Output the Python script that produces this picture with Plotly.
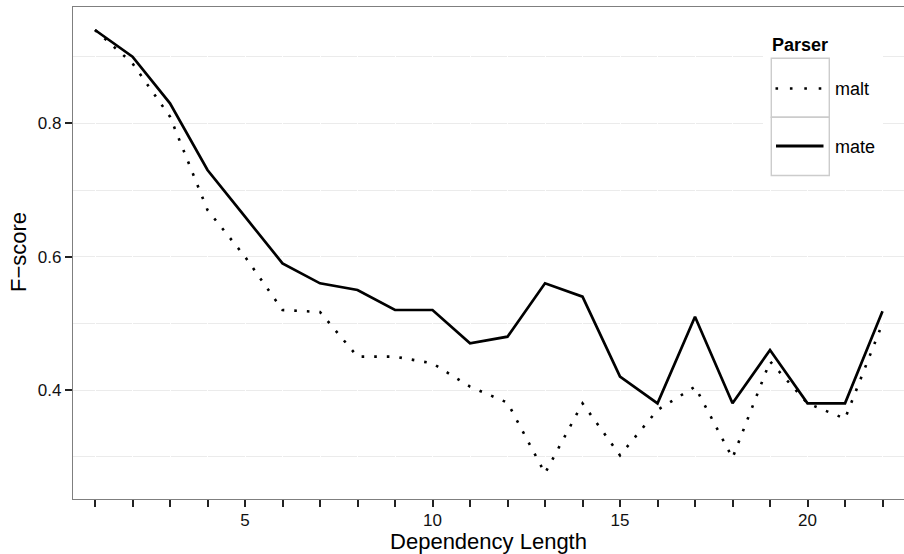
import plotly.graph_objects as go

# ---- data ----
dependency_length = list(range(1, 23))
malt_fscore = [0.94, 0.89, 0.81, 0.67, 0.60, 0.52, 0.517, 0.45, 0.45, 0.44, 0.405,
               0.381, 0.275, 0.38, 0.302, 0.37, 0.405, 0.298, 0.443, 0.38, 0.357, 0.50]
mate_fscore = [0.94, 0.90, 0.83, 0.73, 0.66, 0.59, 0.56, 0.55, 0.52, 0.52, 0.47,
               0.48, 0.56, 0.54, 0.42, 0.38, 0.51, 0.38, 0.46, 0.38, 0.38, 0.518]
series_names = ["malt", "mate"]
legend_title = "Parser"
x_title = "Dependency Length"
y_title = "F\u2212score"
x_tick_vals = list(range(1, 23))
x_tick_text = ["", "", "", "", "5", "", "", "", "", "10", "", "", "", "", "15",
               "", "", "", "", "20", "", ""]
y_tick_vals = [0.4, 0.6, 0.8]
y_tick_text = ["0.4", "0.6", "0.8"]
y_minor_vals = [0.3, 0.4, 0.5, 0.6, 0.7, 0.8, 0.9]

W, H = 904, 554
ML, MR, MT, MB = 73, 0, 7, 55
PW, PH = W - ML - MR, H - MT - MB

def px(x):
    return (x - ML) / PW

def py(y):
    return (H - MB - y) / PH

FONT = "Liberation Sans, Arial, Helvetica, sans-serif"
DOT = "2.6px,10px"

fig = go.Figure()
fig.add_trace(go.Scatter(x=dependency_length, y=malt_fscore, mode="lines",
                         name=series_names[0],
                         line=dict(color="black", width=2.6, dash=DOT)))
fig.add_trace(go.Scatter(x=dependency_length, y=mate_fscore, mode="lines",
                         name=series_names[1],
                         line=dict(color="black", width=2.7)))

shapes = []
# legend background
shapes.append(dict(type="rect", xref="paper", yref="paper",
                   x0=px(763), x1=px(883), y0=py(183), y1=py(31),
                   fillcolor="white", line=dict(width=0), layer="above"))
# key boxes
for top, bot in [(58.3, 117.3), (117.3, 175.5)]:
    shapes.append(dict(type="rect", xref="paper", yref="paper",
                       x0=px(771.3), x1=px(829.3), y0=py(bot), y1=py(top),
                       fillcolor="white", line=dict(color="#cccccc", width=1.4),
                       layer="above"))
# key lines
shapes.append(dict(type="line", xref="paper", yref="paper",
                   x0=px(775.5), x1=px(823), y0=py(88.5), y1=py(88.5),
                   line=dict(color="black", width=2.6, dash="2.6px,11.8px"), layer="above"))
shapes.append(dict(type="line", xref="paper", yref="paper",
                   x0=px(776), x1=px(823.5), y0=py(146), y1=py(146),
                   line=dict(color="black", width=2.8), layer="above"))

annotations = [
    dict(text="<b>" + legend_title + "</b>", xref="paper", yref="paper",
         x=px(770), y=py(45), xanchor="left", yanchor="middle", showarrow=False,
         font=dict(family=FONT, size=18, color="black")),
    dict(text=series_names[0], xref="paper", yref="paper",
         x=px(832.5), y=py(88.5), xanchor="left", yanchor="middle", showarrow=False,
         font=dict(family=FONT, size=18, color="black")),
    dict(text=series_names[1], xref="paper", yref="paper",
         x=px(832.5), y=py(146.5), xanchor="left", yanchor="middle", showarrow=False,
         font=dict(family=FONT, size=18, color="black")),
    dict(text=y_title, xref="paper", yref="paper", textangle=-90,
         x=px(18.5), y=py(252.5), xanchor="center", yanchor="middle", showarrow=False,
         font=dict(family=FONT, size=22, color="black")),
]

fig.update_layout(
    width=W, height=H,
    margin=dict(l=ML, r=MR, t=MT, b=MB, pad=0),
    paper_bgcolor="white", plot_bgcolor="white",
    showlegend=False,
    font=dict(family=FONT, color="black"),
    shapes=shapes, annotations=annotations,
)
fig.update_xaxes(
    range=[0.4133, 22.573],
    tickmode="array", tickvals=x_tick_vals, ticktext=x_tick_text,
    ticks="outside", ticklen=7, tickwidth=1.6, tickcolor="#222222",
    ticklabelstandoff=-2,
    tickfont=dict(family=FONT, size=17, color="#111111"),
    showgrid=True, gridcolor="white", gridwidth=1,
    showline=True, linecolor="#7f7f7f", linewidth=1.3, mirror=True,
    zeroline=False,
    title=dict(text=x_title, standoff=6,
               font=dict(family=FONT, size=22, color="black")),
)
fig.update_yaxes(
    range=[0.2365, 0.9745],
    tickmode="array", tickvals=y_tick_vals, ticktext=y_tick_text,
    ticks="outside", ticklen=7, tickwidth=1.6, tickcolor="#222222",
    tickfont=dict(family=FONT, size=17, color="#111111"),
    showgrid=False,
    minor=dict(tickmode="array", tickvals=y_minor_vals, showgrid=True,
               gridcolor="#ebebeb", gridwidth=1, ticks=""),
    showline=True, linecolor="#7f7f7f", linewidth=1.3, mirror=False,
    zeroline=False,
)

fig.write_html(
    "out.html",
    config={"displayModeBar": False},
    post_script="document.body.style.margin='0';document.body.style.overflow='hidden';",
)
